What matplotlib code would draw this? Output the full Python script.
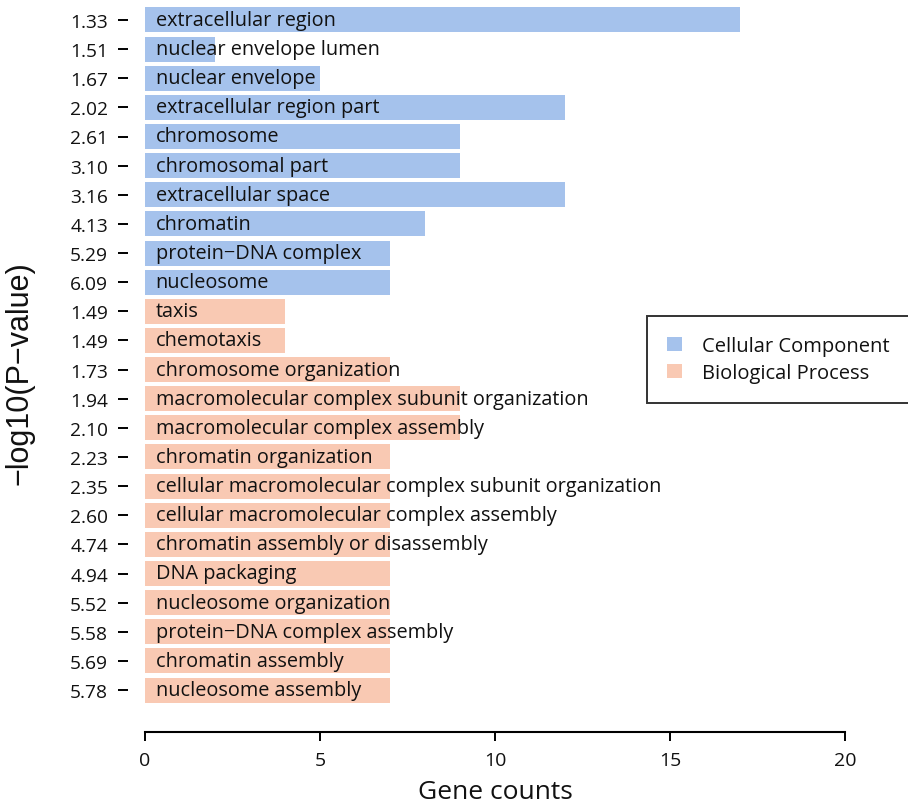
import matplotlib
matplotlib.use("Agg")
import matplotlib.pyplot as plt
from matplotlib.patches import Patch

# GO terms (top to bottom), gene counts and -log10(P) values
cc_terms = ["extracellular region", "nuclear envelope lumen", "nuclear envelope",
            "extracellular region part", "chromosome", "chromosomal part",
            "extracellular space", "chromatin", "protein\u2212DNA complex", "nucleosome"]
cc_counts = [17, 2, 5, 12, 9, 9, 12, 8, 7, 7]
cc_pvals = ["1.33", "1.51", "1.67", "2.02", "2.61", "3.10", "3.16", "4.13", "5.29", "6.09"]

bp_terms = ["taxis", "chemotaxis", "chromosome organization",
            "macromolecular complex subunit organization",
            "macromolecular complex assembly", "chromatin organization",
            "cellular macromolecular complex subunit organization",
            "cellular macromolecular complex assembly",
            "chromatin assembly or disassembly", "DNA packaging",
            "nucleosome organization", "protein\u2212DNA complex assembly",
            "chromatin assembly", "nucleosome assembly"]
bp_counts = [4, 4, 7, 9, 9, 7, 7, 7, 7, 7, 7, 7, 7, 7]
bp_pvals = ["1.49", "1.49", "1.73", "1.94", "2.10", "2.23", "2.35", "2.60",
            "4.74", "4.94", "5.52", "5.58", "5.69", "5.78"]

x_ticks = [0, 5, 10, 15, 20]
categories = ["Cellular Component", "Biological Process"]
colors = ["#a5c2ec", "#f9c9b3"]

terms = cc_terms + bp_terms
counts = cc_counts + bp_counts
pvals = cc_pvals + bp_pvals
bar_colors = [colors[0]] * len(cc_terms) + [colors[1]] * len(bp_terms)
n = len(terms)
ypos = list(range(n))

label_font = ["Open Sans", "DejaVu Sans"]
text_weight = 500
PX = 72 / 100  # points per pixel at 100 dpi

fig = plt.figure(figsize=(9.08, 8.03), dpi=100)
top_px, bot_px = 6.4, 705.6
ax = fig.add_axes([145 / 908, 1 - bot_px / 803, 700 / 908, (bot_px - top_px) / 803])

ax.barh(ypos, counts, height=0.86, color=bar_colors, edgecolor="none")
for y, t in zip(ypos, terms):
    ax.text(0.3, y, t, va="center", ha="left", fontsize=14.3,
            family=label_font, weight=text_weight, color="#111111")

ax.set_ylim(n - 0.5, -0.5)
ax.set_xlim(0, 20)

for side in ["top", "right", "left"]:
    ax.spines[side].set_visible(False)
ax.spines["left"].set_position(("outward", 17 * PX))
ax.spines["bottom"].set_position(("outward", 27.4 * PX))
ax.spines["bottom"].set_bounds(0, 20)
ax.spines["bottom"].set_linewidth(1.5)

ax.set_yticks(ypos)
ax.set_yticklabels(pvals, family=label_font, fontsize=13.8, weight=text_weight,
                   color="#111111")
ax.tick_params(axis="y", length=10 * PX, width=1.4, pad=10 * PX)
ax.set_xticks(x_ticks)
ax.set_xticklabels([str(v) for v in x_ticks], family=label_font, fontsize=14,
                   weight=text_weight, color="#111111")
ax.tick_params(axis="x", length=9 * PX, width=1.4, pad=10 * PX)

ax.set_xlabel("Gene counts", family=label_font, fontsize=19, labelpad=7,
              weight=text_weight, color="#111111")
fig.text(20 / 908, 1 - 373 / 803, "\u2212log10(P\u2212value)", rotation=90,
         ha="center", va="center", family="Liberation Sans", fontsize=22,
         color="#111111")

handles = [Patch(facecolor=c, edgecolor="none") for c in colors]
leg = fig.legend(handles, categories, loc="upper left",
                 bbox_to_anchor=(647 / 908, 1 - 317 / 803),
                 prop={"family": label_font, "size": 14.5, "weight": text_weight},
                 frameon=True, fancybox=False, edgecolor="black",
                 handlelength=0.75, handleheight=0.7, borderpad=1.0,
                 handletextpad=1.0, labelspacing=0.35, borderaxespad=0)
leg.get_frame().set_linewidth(1.4)
for t in leg.get_texts():
    t.set_color("#111111")

fig.savefig("out.png", dpi=100)
